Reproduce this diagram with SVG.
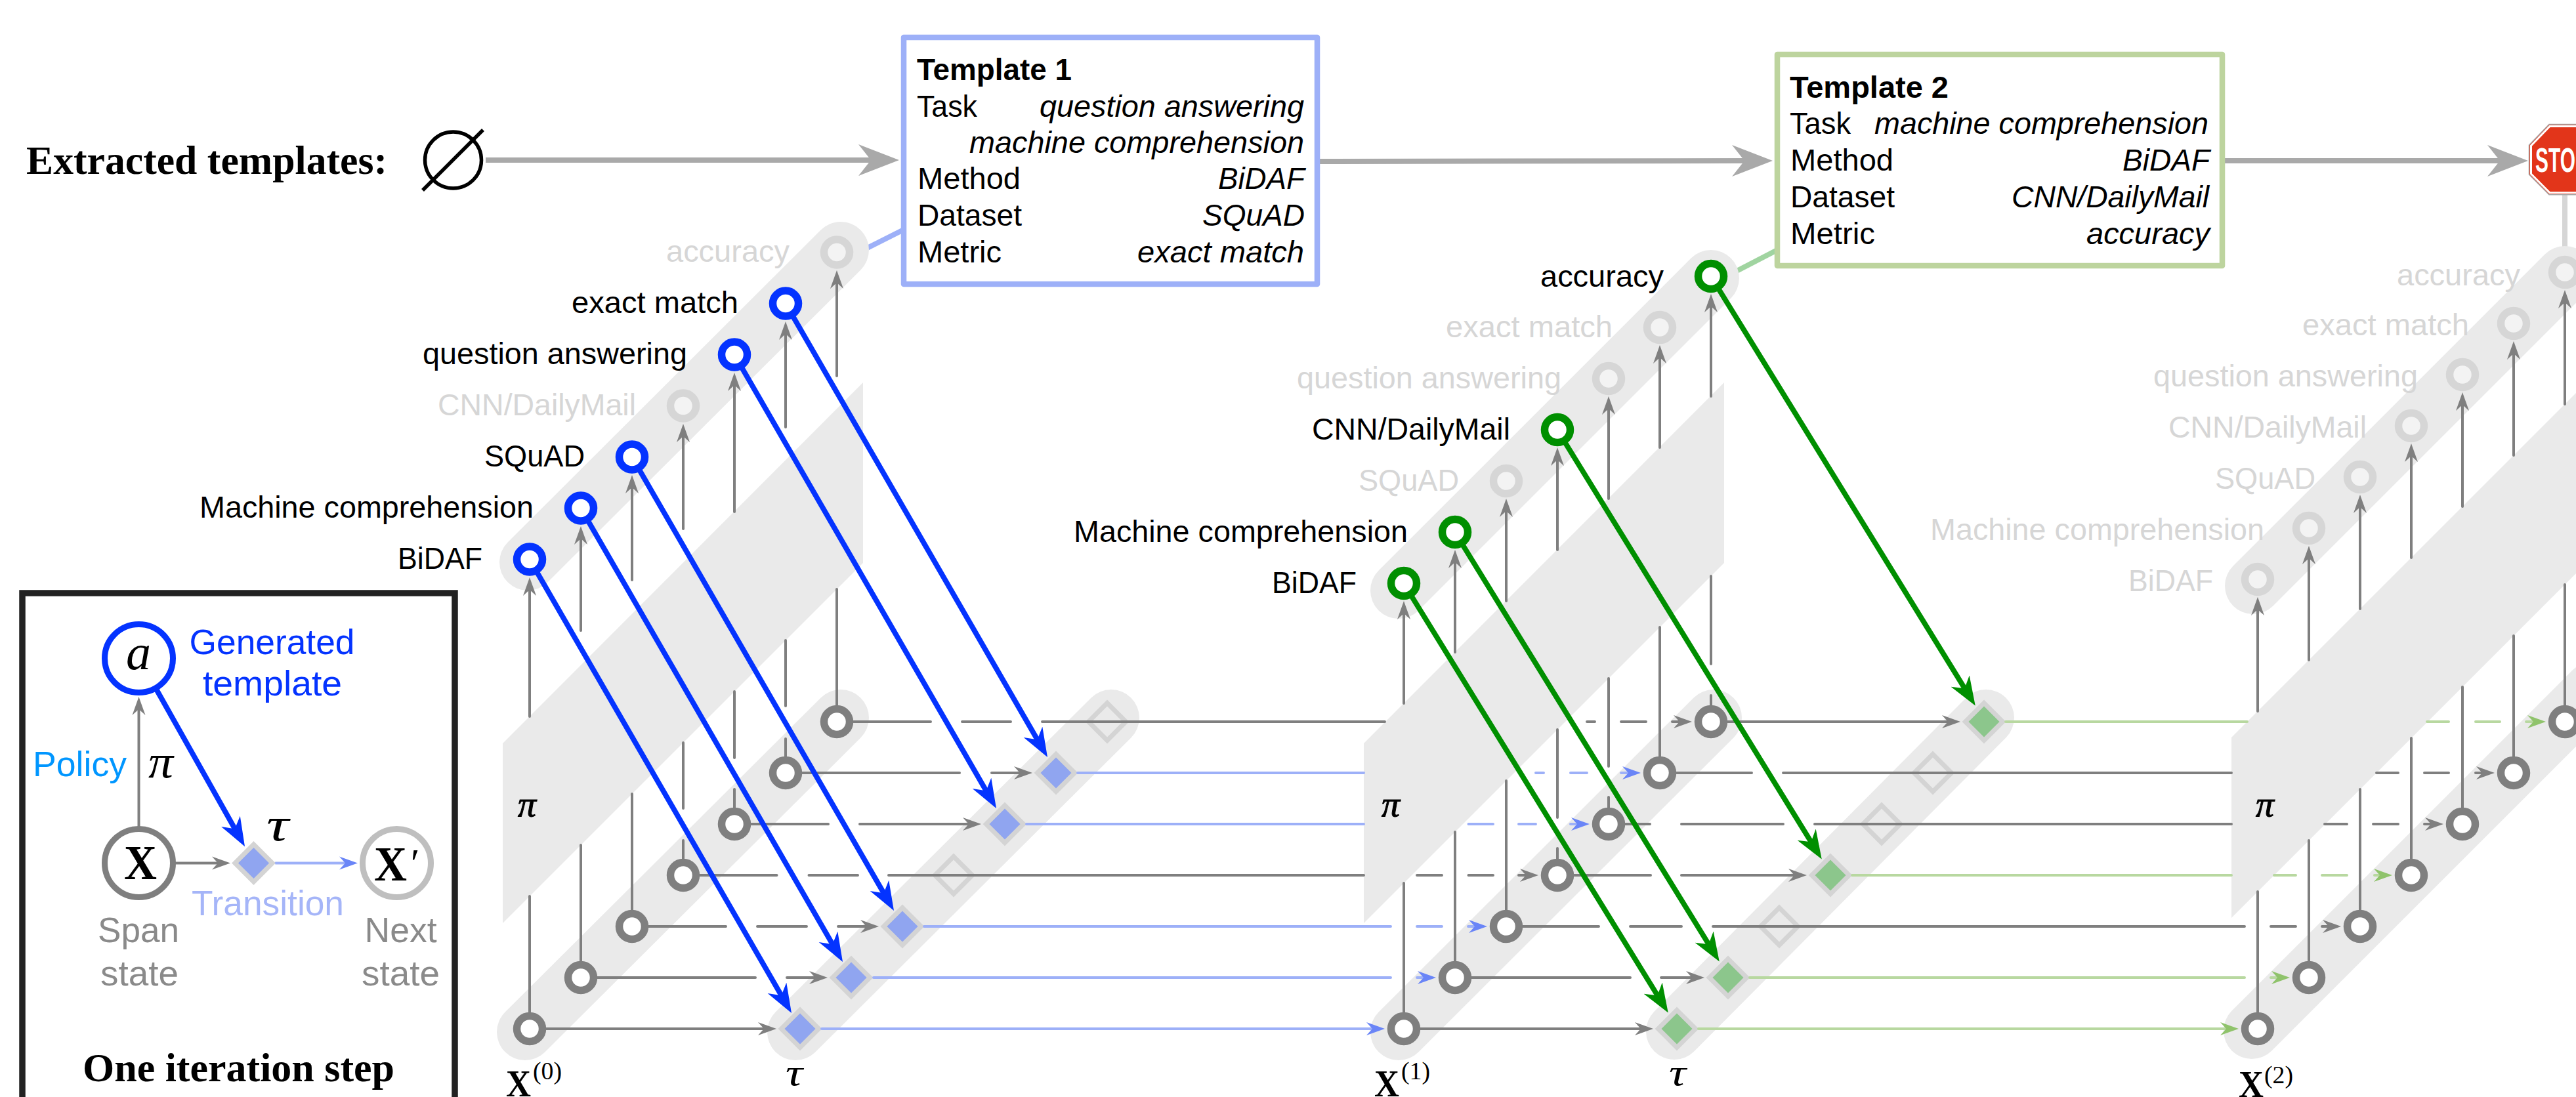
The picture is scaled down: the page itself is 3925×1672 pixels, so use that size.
<svg xmlns="http://www.w3.org/2000/svg" width="3925" height="1672" viewBox="0 0 3925 1672">
<style>
text{font-family:"Liberation Sans",Arial,sans-serif;font-size:46px;fill:#000}
.i{font-style:italic}
.b{font-weight:bold}
.l{fill:#d6d6d6}
.s{font-family:"Liberation Serif","Times New Roman",serif}
.pi{font-family:"Liberation Serif","Times New Roman",serif;font-style:italic;font-size:54px;stroke:#000;stroke-width:1}
.band{stroke:#eaeaea;stroke-width:86;stroke-linecap:round;fill:none}
.para{fill:#eaeaea}
.rb{fill:#fff;stroke:#0433ff;stroke-width:11.5}
.rg{fill:#fff;stroke:#008f00;stroke-width:11.5}
.rl{fill:#f3f3f3;stroke:#d6d6d6;stroke-width:11.5}
.rs{fill:#fff;stroke:#7f7f7f;stroke-width:11.5}
.db{fill:#90a5f0;stroke:#d4d4d4;stroke-width:7}
.dg{fill:#8cc68c;stroke:#d4d4d4;stroke-width:7}
.d0{fill:none;stroke:#d4d4d4;stroke-width:7}
.cg{fill:none;stroke:#7f7f7f;stroke-width:4;stroke-linecap:round}
.cb{fill:none;stroke:#9db0f8;stroke-width:4;stroke-linecap:round}
.cv{fill:none;stroke:#b8d8a0;stroke-width:4;stroke-linecap:round}
.hgm{marker-end:url(#hg)}
.hbm{marker-end:url(#hl)}
.hvm{marker-end:url(#hv)}
.ab{fill:none;stroke:#0433ff;stroke-width:8;marker-end:url(#hB)}
.av{fill:none;stroke:#008f00;stroke-width:8;marker-end:url(#hG)}
.top{fill:none;stroke:#a9a9a9;stroke-width:8;marker-end:url(#hT)}
</style>
<defs>
<marker id="hg" markerUnits="userSpaceOnUse" markerWidth="30" markerHeight="24" refX="13" refY="12" orient="auto"><path d="M28,12L0,2L9,12L0,22Z" fill="#7f7f7f"/></marker>
<marker id="hl" markerUnits="userSpaceOnUse" markerWidth="30" markerHeight="24" refX="13" refY="12" orient="auto"><path d="M28,12L0,2L9,12L0,22Z" fill="#6a85f7"/></marker>
<marker id="hv" markerUnits="userSpaceOnUse" markerWidth="30" markerHeight="24" refX="13" refY="12" orient="auto"><path d="M28,12L0,2L9,12L0,22Z" fill="#8fc36b"/></marker>
<marker id="hB" markerUnits="userSpaceOnUse" markerWidth="46" markerHeight="34" refX="14" refY="17" orient="auto"><path d="M44,17L0,.5L13,17L0,33.5Z" fill="#0433ff"/></marker>
<marker id="hG" markerUnits="userSpaceOnUse" markerWidth="46" markerHeight="34" refX="14" refY="17" orient="auto"><path d="M44,17L0,.5L13,17L0,33.5Z" fill="#008f00"/></marker>
<marker id="hT" markerUnits="userSpaceOnUse" markerWidth="64" markerHeight="48" refX="30" refY="24" orient="auto"><path d="M62,24L0,0L19,24L0,48Z" fill="#a9a9a9"/></marker>
<path id="dm" d="M0,-28.5L28.5,0L0,28.5L-28.5,0Z"/>
</defs>

<rect width="3925" height="1672" fill="#fff"/>

<g id="links">
<path d="M1270,404L1375,351" fill="none" stroke="#9db0f8" stroke-width="8"/>
<path d="M2600,437L2706,382" fill="none" stroke="#a0d4a0" stroke-width="8"/>
<path d="M3908,296V420" fill="none" stroke="#d6d6d6" stroke-width="8"/>
</g>

<g id="bands">
<path class="band" d="M804,857L1281,381"/>
<path class="band" d="M800,1573L1281,1094"/>
<path class="band" d="M1212,1573L1693,1094"/>
<path class="band" d="M2131,900L2607,424"/>
<path class="band" d="M2131,1573L2611,1094"/>
<path class="band" d="M2551,1572L3026,1094"/>
<path class="band" d="M3433,893L3908,418"/>
<path class="band" d="M3431,1571L3950,1052"/>
<path class="para" d="M766,1133L1315,583V858L766,1407Z"/>
<path class="para" d="M2078,1133L2627,583V858L2078,1407Z"/>
<path class="para" d="M3400,1124L3950,574V849L3400,1399Z"/>
</g>

<g id="tau1">
<g id="t1-0"><use href="#dm" x="1219" y="1568" class="db"/></g>
<g id="t1-1"><use href="#dm" x="1297" y="1490" class="db"/></g>
<g id="t1-2"><use href="#dm" x="1375" y="1412" class="db"/></g>
<g id="t1-3"><use href="#dm" x="1453" y="1334" class="d0"/></g>
<g id="t1-4"><use href="#dm" x="1531" y="1256" class="db"/></g>
<g id="t1-5"><use href="#dm" x="1609" y="1178" class="db"/></g>
<g id="t1-6"><use href="#dm" x="1687" y="1100" class="d0"/></g>
</g>
<g id="tau2">
<g id="t2-0"><use href="#dm" x="2555" y="1568" class="dg"/></g>
<g id="t2-1"><use href="#dm" x="2633" y="1490" class="dg"/></g>
<g id="t2-2"><use href="#dm" x="2711" y="1412" class="d0"/></g>
<g id="t2-3"><use href="#dm" x="2789" y="1334" class="dg"/></g>
<g id="t2-4"><use href="#dm" x="2867" y="1256" class="d0"/></g>
<g id="t2-5"><use href="#dm" x="2945" y="1178" class="d0"/></g>
<g id="t2-6"><use href="#dm" x="3023" y="1100" class="dg"/></g>
</g>

<g id="connectors">
<path class="top" d="M740,244H1338"/>
<path class="top" d="M2005,246L2669,245"/>
<path class="top" d="M3386,245H3820"/>
<path class="cg hgm" d="M807,1092V895"/><path class="cg" d="M807,1366V1568"/>
<path class="cg hgm" d="M885,961V817"/><path class="cg" d="M885,1288V1490"/>
<path class="cg hgm" d="M963,884V739"/><path class="cg" d="M963,1210V1412"/>
<path class="cg hgm" d="M1041,806V661"/><path class="cg" d="M1041,1132V1232M1041,1281V1334"/>
<path class="cg hgm" d="M1119,780V583"/><path class="cg" d="M1119,1054V1155M1119,1203V1256"/>
<path class="cg hgm" d="M1197,651V505"/><path class="cg" d="M1197,976V1076M1197,1126V1178"/>
<path class="cg hgm" d="M1275,573V427"/><path class="cg" d="M1275,898V1100"/>
<path class="cg hgm" d="M2139,1072V931"/><path class="cg" d="M2139,1346V1568"/>
<path class="cg hgm" d="M2217,994V853"/><path class="cg" d="M2217,1268V1490"/>
<path class="cg hgm" d="M2295,916V775"/><path class="cg" d="M2295,1190V1412"/>
<path class="cg hgm" d="M2373,838V697"/><path class="cg" d="M2373,1112V1246M2373,1293V1334"/>
<path class="cg hgm" d="M2451,760V619"/><path class="cg" d="M2451,1034V1168M2451,1215V1256"/>
<path class="cg hgm" d="M2529,682V541"/><path class="cg" d="M2529,956V1178"/>
<path class="cg hgm" d="M2607,604V463"/><path class="cg" d="M2607,878V1012M2607,1060V1100"/>
<path class="cg hgm" d="M3440,1084V925"/><path class="cg" d="M3440,1359V1568"/>
<path class="cg hgm" d="M3518,1006V847"/><path class="cg" d="M3518,1281V1490"/>
<path class="cg hgm" d="M3596,928V769"/><path class="cg" d="M3596,1203V1412"/>
<path class="cg hgm" d="M3674,850V691"/><path class="cg" d="M3674,1125V1334"/>
<path class="cg hgm" d="M3752,772V613"/><path class="cg" d="M3752,1047V1256"/>
<path class="cg hgm" d="M3830,694V535"/><path class="cg" d="M3830,969V1178"/>
<path class="cg hgm" d="M3908,616V457"/><path class="cg" d="M3908,891V1100"/>
<path class="cg hgm" d="M807,1568H1168"/>
<path class="cg" d="M885,1490H1151"/><path class="cg hgm" d="M1199,1490H1246"/>
<path class="cg" d="M963,1412H1106M1154,1412H1229"/><path class="cg hgm" d="M1277,1412H1324"/>
<path class="cg" d="M1041,1334H1183.500M1232.500,1334H1307M1354,1334H2078M2159,1334H2197M2237.500,1334H2275"/><path class="cg hgm" d="M2314,1334H2329"/>
<path class="cg" d="M1119,1256H1262"/><path class="cg hgm" d="M1310,1256H1480"/>
<path class="cg" d="M1197,1178H1462"/><path class="cg hgm" d="M1511,1178H1558"/>
<path class="cg" d="M1275,1100H1418M1466,1100H1540M1588,1100H2110M2418,1100H2430M2470,1100H2508"/><path class="cg hgm" d="M2548,1100H2563"/>
<path class="cb hbm" d="M1252,1568H2095"/>
<path class="cb" d="M1331,1490H2119"/><path class="cb hbm" d="M2159,1490H2173"/>
<path class="cb" d="M1408,1412H2119M2159,1412H2197"/><path class="cb hbm" d="M2237,1412H2251"/>
<path class="cb" d="M1564,1256H2078M2237.500,1256H2275M2314,1256H2340"/><path class="cb hbm" d="M2393,1256H2407"/>
<path class="cb" d="M1642,1178H2078M2340,1178H2352M2393,1178H2418"/><path class="cb hbm" d="M2470,1178H2485"/>
<path class="cg hgm" d="M2139,1568H2504"/>
<path class="cg" d="M2217,1490H2484"/><path class="cg hgm" d="M2531,1490H2582"/>
<path class="cg" d="M2295,1412H2436M2484,1412H2562M2610,1412H3420M3460,1412H3498"/><path class="cg hgm" d="M3538,1412H3552"/>
<path class="cg" d="M2373,1334H2515"/><path class="cg hgm" d="M2562,1334H2738"/>
<path class="cg" d="M2451,1256H2514M2562,1256H2717M2765,1256H3400M3542,1256H3576M3616,1256H3654"/><path class="cg hgm" d="M3694,1256H3708"/>
<path class="cg" d="M2529,1178H2669M2717,1178H3400M3621,1178H3654M3694,1178H3731"/><path class="cg hgm" d="M3772,1178H3786"/>
<path class="cg hgm" d="M2607,1100H2972"/>
<path class="cv hvm" d="M2588,1568H3396"/>
<path class="cv" d="M2666,1490H3420"/><path class="cv hvm" d="M3460,1490H3474"/>
<path class="cv" d="M2822,1334H3400M3465,1334H3498M3538,1334H3576"/><path class="cv hvm" d="M3618,1334H3630"/>
<path class="cv" d="M3056,1100H3424M3698,1100H3731M3772,1100H3809"/><path class="cv hvm" d="M3849,1100H3864"/>
<path class="ab" d="M819,873.500L1191,1518"/>
<path class="ab" d="M897,795.500L1269,1440"/>
<path class="ab" d="M975,717.500L1347,1362"/>
<path class="ab" d="M1131,561.500L1503,1206"/>
<path class="ab" d="M1209,483.500L1581,1128"/>
<path class="av" d="M2151,909L2526,1518"/>
<path class="av" d="M2229,831L2604,1440"/>
<path class="av" d="M2385,675L2760,1284"/>
<path class="av" d="M2619,441L2994,1050"/>
</g>

<g id="x0-states">
<g id="x0s0"><circle cx="807" cy="1568" r="19.500" class="rs"/></g>
<g id="x0s1"><circle cx="885" cy="1490" r="19.500" class="rs"/></g>
<g id="x0s2"><circle cx="963" cy="1412" r="19.500" class="rs"/></g>
<g id="x0s3"><circle cx="1041" cy="1334" r="19.500" class="rs"/></g>
<g id="x0s4"><circle cx="1119" cy="1256" r="19.500" class="rs"/></g>
<g id="x0s5"><circle cx="1197" cy="1178" r="19.500" class="rs"/></g>
<g id="x0s6"><circle cx="1275" cy="1100" r="19.500" class="rs"/></g>
</g>
<g id="x1-states">
<g id="x1s0"><circle cx="2139" cy="1568" r="19.500" class="rs"/></g>
<g id="x1s1"><circle cx="2217" cy="1490" r="19.500" class="rs"/></g>
<g id="x1s2"><circle cx="2295" cy="1412" r="19.500" class="rs"/></g>
<g id="x1s3"><circle cx="2373" cy="1334" r="19.500" class="rs"/></g>
<g id="x1s4"><circle cx="2451" cy="1256" r="19.500" class="rs"/></g>
<g id="x1s5"><circle cx="2529" cy="1178" r="19.500" class="rs"/></g>
<g id="x1s6"><circle cx="2607" cy="1100" r="19.500" class="rs"/></g>
</g>
<g id="x2-states">
<g id="x2s0"><circle cx="3440" cy="1568" r="19.500" class="rs"/></g>
<g id="x2s1"><circle cx="3518" cy="1490" r="19.500" class="rs"/></g>
<g id="x2s2"><circle cx="3596" cy="1412" r="19.500" class="rs"/></g>
<g id="x2s3"><circle cx="3674" cy="1334" r="19.500" class="rs"/></g>
<g id="x2s4"><circle cx="3752" cy="1256" r="19.500" class="rs"/></g>
<g id="x2s5"><circle cx="3830" cy="1178" r="19.500" class="rs"/></g>
<g id="x2s6"><circle cx="3908" cy="1100" r="19.500" class="rs"/></g>
</g>

<g id="a0">
<g id="a0-bidaf"><circle cx="807" cy="852.500" r="19.500" class="rb"/><text x="606" y="866.500" textLength="129" lengthAdjust="spacingAndGlyphs">BiDAF</text></g>
<g id="a0-machine"><circle cx="885" cy="774.500" r="19.500" class="rb"/><text x="304" y="788.500" textLength="509" lengthAdjust="spacingAndGlyphs">Machine comprehension</text></g>
<g id="a0-squad"><circle cx="963" cy="696.500" r="19.500" class="rb"/><text x="738" y="710.500" textLength="153" lengthAdjust="spacingAndGlyphs">SQuAD</text></g>
<g id="a0-cnn"><circle cx="1041" cy="618.500" r="19.500" class="rl"/><text x="667" y="632.500" textLength="302" lengthAdjust="spacingAndGlyphs" class="l">CNN/DailyMail</text></g>
<g id="a0-qa"><circle cx="1119" cy="540.500" r="19.500" class="rb"/><text x="644" y="554.500" textLength="403" lengthAdjust="spacingAndGlyphs">question answering</text></g>
<g id="a0-em"><circle cx="1197" cy="462.500" r="19.500" class="rb"/><text x="871" y="476.500" textLength="254" lengthAdjust="spacingAndGlyphs">exact match</text></g>
<g id="a0-acc"><circle cx="1275" cy="384.500" r="19.500" class="rl"/><text x="1015" y="399" textLength="188" lengthAdjust="spacingAndGlyphs" class="l">accuracy</text></g>
</g>
<g id="a1">
<g id="a1-bidaf"><circle cx="2139" cy="889" r="19.500" class="rg"/><text x="1938" y="904" textLength="129" lengthAdjust="spacingAndGlyphs">BiDAF</text></g>
<g id="a1-machine"><circle cx="2217" cy="811" r="19.500" class="rg"/><text x="1636" y="826" textLength="509" lengthAdjust="spacingAndGlyphs">Machine comprehension</text></g>
<g id="a1-squad"><circle cx="2295" cy="733" r="19.500" class="rl"/><text x="2070" y="748" textLength="153" lengthAdjust="spacingAndGlyphs" class="l">SQuAD</text></g>
<g id="a1-cnn"><circle cx="2373" cy="655" r="19.500" class="rg"/><text x="1999" y="670" textLength="302" lengthAdjust="spacingAndGlyphs">CNN/DailyMail</text></g>
<g id="a1-qa"><circle cx="2451" cy="577" r="19.500" class="rl"/><text x="1976" y="592" textLength="403" lengthAdjust="spacingAndGlyphs" class="l">question answering</text></g>
<g id="a1-em"><circle cx="2529" cy="499" r="19.500" class="rl"/><text x="2203" y="514" textLength="254" lengthAdjust="spacingAndGlyphs" class="l">exact match</text></g>
<g id="a1-acc"><circle cx="2607" cy="421" r="19.500" class="rg"/><text x="2347" y="437" textLength="188" lengthAdjust="spacingAndGlyphs">accuracy</text></g>
</g>
<g id="a2">
<g id="a2-bidaf"><circle cx="3440" cy="883" r="19.500" class="rl"/><text x="3243" y="901" textLength="129" lengthAdjust="spacingAndGlyphs" class="l">BiDAF</text></g>
<g id="a2-machine"><circle cx="3518" cy="805" r="19.500" class="rl"/><text x="2941" y="823" textLength="509" lengthAdjust="spacingAndGlyphs" class="l">Machine comprehension</text></g>
<g id="a2-squad"><circle cx="3596" cy="727" r="19.500" class="rl"/><text x="3375" y="745" textLength="153" lengthAdjust="spacingAndGlyphs" class="l">SQuAD</text></g>
<g id="a2-cnn"><circle cx="3674" cy="649" r="19.500" class="rl"/><text x="3304" y="667" textLength="302" lengthAdjust="spacingAndGlyphs" class="l">CNN/DailyMail</text></g>
<g id="a2-qa"><circle cx="3752" cy="571" r="19.500" class="rl"/><text x="3281" y="589" textLength="403" lengthAdjust="spacingAndGlyphs" class="l">question answering</text></g>
<g id="a2-em"><circle cx="3830" cy="493" r="19.500" class="rl"/><text x="3508" y="511" textLength="254" lengthAdjust="spacingAndGlyphs" class="l">exact match</text></g>
<g id="a2-acc"><circle cx="3908" cy="415" r="19.500" class="rl"/><text x="3652" y="435" textLength="188" lengthAdjust="spacingAndGlyphs" class="l">accuracy</text></g>
</g>

<g id="pi-tau-labels">
<text x="789" y="1244" class="pi" textLength="28" lengthAdjust="spacingAndGlyphs">π</text>
<text x="2105" y="1244" class="pi" textLength="28" lengthAdjust="spacingAndGlyphs">π</text>
<text x="3437" y="1244" class="pi" textLength="28" lengthAdjust="spacingAndGlyphs">π</text>
<text x="1197" y="1654" class="s i" style="font-size:56px" textLength="26" lengthAdjust="spacingAndGlyphs">τ</text>
<text x="2543" y="1654" class="s i" style="font-size:56px" textLength="26" lengthAdjust="spacingAndGlyphs">τ</text>
<text x="771" y="1671" class="s b" style="font-size:56px" textLength="38" lengthAdjust="spacingAndGlyphs">X</text>
<text x="812" y="1645" class="s" style="font-size:38px" textLength="44" lengthAdjust="spacingAndGlyphs">(0)</text>
<text x="2094" y="1671" class="s b" style="font-size:56px" textLength="38" lengthAdjust="spacingAndGlyphs">X</text>
<text x="2135" y="1645" class="s" style="font-size:38px" textLength="44" lengthAdjust="spacingAndGlyphs">(1)</text>
<text x="3411" y="1672" class="s b" style="font-size:56px" textLength="38" lengthAdjust="spacingAndGlyphs">X</text>
<text x="3450" y="1651" class="s" style="font-size:38px" textLength="44" lengthAdjust="spacingAndGlyphs">(2)</text>
</g>

<g id="heading">
<text x="40" y="265" class="s b" style="font-size:62px" textLength="550" lengthAdjust="spacingAndGlyphs">Extracted templates:</text>
</g>
<g id="empty-set">
<circle cx="690.500" cy="244" r="43" fill="none" stroke="#000" stroke-width="5.500"/>
<path d="M736,198L644,290" fill="none" stroke="#000" stroke-width="5.500"/>
</g>

<g id="template1">
<rect x="1377" y="57" width="630" height="376" fill="#fff" stroke="#9db0f8" stroke-width="8.500" stroke-linejoin="round"/>
<text x="1397" y="122" class="b" textLength="236" lengthAdjust="spacingAndGlyphs">Template 1</text>
<text x="1397" y="178" textLength="92" lengthAdjust="spacingAndGlyphs">Task</text>
<text x="1584" y="178" class="i" textLength="403" lengthAdjust="spacingAndGlyphs">question answering</text>
<text x="1477" y="233" class="i" textLength="510" lengthAdjust="spacingAndGlyphs">machine comprehension</text>
<text x="1398" y="288" textLength="157" lengthAdjust="spacingAndGlyphs">Method</text>
<text x="1856" y="288" class="i" textLength="132" lengthAdjust="spacingAndGlyphs">BiDAF</text>
<text x="1398" y="344" textLength="159" lengthAdjust="spacingAndGlyphs">Dataset</text>
<text x="1832" y="344" class="i" textLength="156" lengthAdjust="spacingAndGlyphs">SQuAD</text>
<text x="1398" y="400" textLength="128" lengthAdjust="spacingAndGlyphs">Metric</text>
<text x="1733" y="400" class="i" textLength="254" lengthAdjust="spacingAndGlyphs">exact match</text>
</g>
<g id="template2">
<rect x="2708" y="83" width="678" height="322" fill="#fff" stroke="#bdd49e" stroke-width="8.500" stroke-linejoin="round"/>
<text x="2727" y="149" class="b" textLength="242" lengthAdjust="spacingAndGlyphs">Template 2</text>
<text x="2727" y="204" textLength="93" lengthAdjust="spacingAndGlyphs">Task</text>
<text x="2856" y="204" class="i" textLength="509" lengthAdjust="spacingAndGlyphs">machine comprehension</text>
<text x="2728" y="260" textLength="157" lengthAdjust="spacingAndGlyphs">Method</text>
<text x="3234" y="260" class="i" textLength="133" lengthAdjust="spacingAndGlyphs">BiDAF</text>
<text x="2728" y="316" textLength="159" lengthAdjust="spacingAndGlyphs">Dataset</text>
<text x="3065" y="316" class="i" textLength="301" lengthAdjust="spacingAndGlyphs">CNN/DailyMail</text>
<text x="2728" y="372" textLength="129" lengthAdjust="spacingAndGlyphs">Metric</text>
<text x="3179" y="372" class="i" textLength="188" lengthAdjust="spacingAndGlyphs">accuracy</text>
</g>

<g id="stop">
<path d="M3884,189.500H3930L3961,221V266L3930,296.700H3884L3853.500,266V221Z" fill="#e2351a" stroke="#a8a8a8" stroke-width="1.500"/>
<path d="M3885,192.500H3929L3958,222V265L3929,293.700H3885L3856.500,265V222Z" fill="none" stroke="#fff" stroke-width="3"/>
<text x="3863" y="262" class="b" style="font-size:52px;fill:#fff" textLength="61" lengthAdjust="spacingAndGlyphs">STO</text>
</g>

<g id="legend">
<path d="M34,1672V904H693V1672" fill="none" stroke="#222" stroke-width="9.500"/>
<path d="M211.500,1260V1077" class="cg hgm"/>
<path d="M268,1315.500H336" class="cg hgm"/>
<path d="M420,1315.500H530" class="cb hbm"/>
<path class="ab" d="M239,1052L358.300,1264"/>
<g id="leg-a"><circle cx="211.500" cy="1003.500" r="52" fill="#fff" stroke="#0433ff" stroke-width="9"/>
<text x="211" y="1020" class="s i" style="font-size:76px;text-anchor:middle">a</text></g>
<g id="leg-x"><circle cx="211.500" cy="1315.500" r="52" fill="#fff" stroke="#7f7f7f" stroke-width="9"/>
<text x="189" y="1340" class="s b" style="font-size:75px" textLength="50" lengthAdjust="spacingAndGlyphs">X</text></g>
<g id="leg-d"><use href="#dm" x="386.500" y="1315.500" class="db"/></g>
<g id="leg-xp"><circle cx="604.500" cy="1315.500" r="52" fill="#fff" stroke="#bfbfbf" stroke-width="9"/>
<text x="570" y="1342" class="s b" style="font-size:75px" textLength="50" lengthAdjust="spacingAndGlyphs">X</text>
<text x="622" y="1336" class="s i" style="font-size:62px">′</text></g>
<text x="288.500" y="997" style="font-size:53px;fill:#0433ff" textLength="252" lengthAdjust="spacingAndGlyphs">Generated</text>
<text x="309" y="1060" style="font-size:53px;fill:#0433ff" textLength="212" lengthAdjust="spacingAndGlyphs">template</text>
<text x="50" y="1183" style="font-size:53px;fill:#0096ff" textLength="143" lengthAdjust="spacingAndGlyphs">Policy</text>
<text x="226" y="1185" class="s i" style="font-size:72px" textLength="38" lengthAdjust="spacingAndGlyphs">π</text>
<text x="406" y="1281" class="s i" style="font-size:72px" textLength="34" lengthAdjust="spacingAndGlyphs">τ</text>
<text x="292" y="1395" style="font-size:53px;fill:#a5b5f8" textLength="232" lengthAdjust="spacingAndGlyphs">Transition</text>
<text x="149" y="1436" style="font-size:53px;fill:#8a8a8a" textLength="124" lengthAdjust="spacingAndGlyphs">Span</text>
<text x="153" y="1501.500" style="font-size:53px;fill:#8a8a8a" textLength="119" lengthAdjust="spacingAndGlyphs">state</text>
<text x="555.500" y="1436" style="font-size:53px;fill:#8a8a8a" textLength="110" lengthAdjust="spacingAndGlyphs">Next</text>
<text x="551" y="1501.500" style="font-size:53px;fill:#8a8a8a" textLength="119" lengthAdjust="spacingAndGlyphs">state</text>
<text x="126" y="1648" class="s b" style="font-size:62px" textLength="475" lengthAdjust="spacingAndGlyphs">One iteration step</text>
</g>
</svg>
